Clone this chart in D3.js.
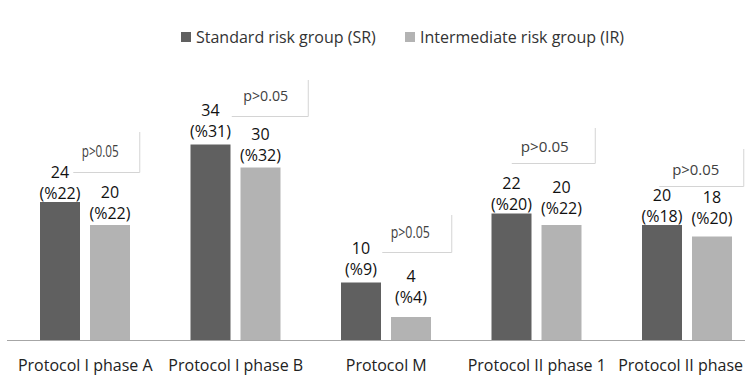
<!DOCTYPE html>
<html>
<head>
<meta charset="utf-8">
<script src="https://cdn.jsdelivr.net/npm/d3@7"></script>
<style>
  html, body { margin: 0; padding: 0; background: #fff; }
  svg { display: block; }
</style>
</head>
<body>
<svg id="chart" width="745" height="376"></svg>
<script>
// Treatment phases and the number (share) of patients in each risk group
const categories = ["Protocol I phase A", "Protocol I phase B", "Protocol M", "Protocol II phase 1", "Protocol II phase 2"];
const seriesNames = ["Standard risk group (SR)", "Intermediate risk group (IR)"];
const srCounts = [24, 34, 10, 22, 20];
const srPercents = [22, 31, 9, 20, 18];
const irCounts = [20, 30, 4, 20, 18];
const irPercents = [22, 32, 4, 22, 20];
const pValueText = ["p>0.05", "p>0.05", "p>0.05", "p>0.05", "p>0.05"];

// Drawing layout (pixels)
const W = 745, H = 376;
const baseY = 340;
const colors = { SR: "#606060", IR: "#b3b3b3" };
// extra lift of the two-line value labels above each bar top
const labelLift = { SR: [3, 8, 8, 3.5, 3], IR: [6, 7, 14, 11, 13] };
// p-value boxes: horizontal extent relative to group centre, bottom relative to SR bar top
const pBoxLayout = [
  { dx0: -12, dx1: 54, lift: 30,   h: 40, tdx: 15,  tlift: 15, tw: 37, fs: 16 },
  { dx0: -4,  dx1: 72, lift: 28.5, h: 36, tdx: 30,  tlift: 15, tw: 45, fs: 15 },
  { dx0: -4,  dx1: 65, lift: 30.5, h: 37, tdx: 24,  tlift: 14, tw: 39, fs: 16 },
  { dx0: -25, dx1: 58, lift: 50.5, h: 35, tdx: 8,   tlift: 11, tw: 48, fs: 15 },
  { dx0: -28, dx1: 56, lift: 39,   h: 37, tdx: 8.5, tlift: 11, tw: 47, fs: 15 }
];

const rows = categories.map((c, i) => ({
  cat: c, i,
  values: [
    { key: "SR", n: srCounts[i], pct: srPercents[i] },
    { key: "IR", n: irCounts[i], pct: irPercents[i] }
  ]
}));

const svg = d3.select("#chart");
const font = "'Open Sans', 'Noto Sans', sans-serif";

const x = d3.scaleBand().domain(categories).range([10, 762.5]).paddingInner(0).paddingOuter(0);
const xs = d3.scaleBand().domain(["SR", "IR"]).range([30, 120]).paddingInner(0.2);
const y = d3.scaleLinear().domain([0, 40]).range([baseY, 110]);

// Legend
const legend = svg.append("g");
const legendPos = [181, 405];
seriesNames.forEach((name, k) => {
  const key = k === 0 ? "SR" : "IR";
  legend.append("rect").attr("x", legendPos[k]).attr("y", 32).attr("width", 10).attr("height", 10)
    .attr("fill", colors[key]);
  legend.append("text").attr("x", legendPos[k] + 15).attr("y", 42.5)
    .attr("font-family", font).attr("font-size", 16).attr("fill", "#333")
    .text(name);
});

// Bars
const groups = svg.append("g").selectAll("g.grp").data(rows).join("g")
  .attr("class", "grp")
  .attr("transform", d => `translate(${x(d.cat)},0)`);

groups.selectAll("rect").data(d => d.values).join("rect")
  .attr("x", v => xs(v.key))
  .attr("width", xs.bandwidth())
  .attr("y", v => y(v.n))
  .attr("height", v => y(0) - y(v.n))
  .attr("fill", v => colors[v.key]);

// Value labels: count over (%share)
groups.each(function(d) {
  const g = d3.select(this);
  d.values.forEach(v => {
    const cx = xs(v.key) + xs.bandwidth() / 2;
    const b2 = y(v.n) - labelLift[v.key][d.i];
    const t = g.append("text").attr("text-anchor", "middle")
      .attr("font-family", font).attr("font-size", 16).attr("fill", "#111");
    t.append("tspan").attr("x", cx).attr("y", b2 - 21).text(v.n);
    t.append("tspan").attr("x", cx).attr("y", b2).text(`(%${v.pct})`);
  });
});

// Axis baseline
svg.append("line").attr("x1", 7).attr("x2", W).attr("y1", baseY + 0.5).attr("y2", baseY + 0.5)
  .attr("stroke", "#a6a6a6").attr("stroke-width", 1);

// Category labels
const xAxis = d3.axisBottom(x).tickSize(0).tickPadding(0);
const ax = svg.append("g").attr("transform", `translate(0,${baseY})`).call(xAxis);
ax.select(".domain").remove();
ax.selectAll("text").attr("font-family", font).attr("font-size", 16).attr("fill", "#222")
  .attr("dy", 0).attr("y", 31);

// p-value boxes
rows.forEach((d, i) => {
  const L = pBoxLayout[i];
  const cx = x(d.cat) + x.bandwidth() / 2;
  const bottom = y(srCounts[i]) - L.lift;
  const top = bottom - L.h;
  const x0 = cx + L.dx0, x1 = cx + L.dx1;
  const g = svg.append("g");
  g.append("path")
    .attr("d", `M${x0},${bottom + 0.5}H${x1 + 0.5}V${top}`)
    .attr("fill", "none").attr("stroke", "#d4d4d4").attr("stroke-width", 1);
  g.append("text")
    .attr("x", cx + L.tdx - L.tw / 2).attr("y", bottom - L.tlift)
    .attr("font-family", font)
    .attr("font-size", L.fs)
    .attr("textLength", L.tw)
    .attr("lengthAdjust", "spacingAndGlyphs")
    .attr("fill", "#404040")
    .text(pValueText[i]);
});
</script>
</body>
</html>
